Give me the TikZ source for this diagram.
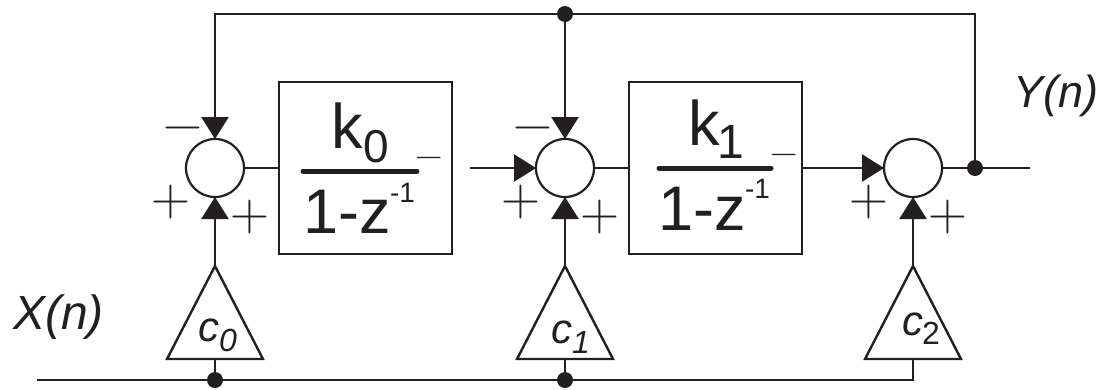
\documentclass[tikz,border=0pt]{standalone}
\usepackage{fontspec}
\usetikzlibrary{arrows.meta,shapes.geometric}
\newfontfamily\arialf{Liberation Sans}
\definecolor{ink}{HTML}{231F20}
\newcommand{\fs}[1]{\fontsize{#1}{#1}\selectfont}
\tikzset{
  x=1pt,y=-1pt,
  wire/.style={draw=ink,line width=2.6pt},
  inwire/.style={wire,-{Triangle[length=22pt,width=27pt]}},
  summer/.style={circle,draw=ink,line width=2.2pt,minimum size=58pt,inner sep=0pt,outer sep=0pt},
  tfbox/.style={rectangle,draw=ink,line width=2.2pt,minimum width=173pt,minimum height=172pt,inner sep=0pt,outer sep=0pt},
  gain/.style={isosceles triangle,isosceles triangle stretches,shape border rotate=90,draw=ink,line width=2.4pt,
     minimum width=96pt,minimum height=93pt,inner sep=0pt,outer sep=0pt,anchor=apex},
  dot/.style={circle,fill=ink,draw=none,minimum size=16pt,inner sep=0pt,outer sep=0pt},
  txt/.style={inner sep=0pt,outer sep=0pt,anchor=base west,text=ink,font=\arialf},
  sign/.style={inner sep=0pt,outer sep=0pt,anchor=center,text=ink,font=\fs{54}},
  smallsign/.style={inner sep=0pt,outer sep=0pt,anchor=center,text=ink,font=\fs{38}},
  fracbar/.style={draw=ink,line width=5pt,line cap=round},
}
\begin{document}
\begin{tikzpicture}
\useasboundingbox (0,0) rectangle (1097,389);
% summers
\node[summer] (s0) at (215,168) {};
\node[summer] (s1) at (565,168) {};
\node[summer] (s2) at (913,168) {};
% boxes
\node[tfbox] (b0) at (365.5,168) {};
\node[tfbox] (b1) at (715.5,168) {};
% gains
\node[gain] (g0) at (215,266) {};
\node[gain] (g1) at (565,266) {};
\node[gain] (g2) at (913,266) {};
% junctions
\node[dot] (jt) at (565,14) {};
\node[dot] (jo) at (975,168) {};
\node[dot] (j0) at (215,380) {};
\node[dot] (j1) at (565,380) {};
\coordinate (tl) at (215,14);
\coordinate (tr) at (975,14);
\coordinate (yout) at (1030,168);
\coordinate (xin) at (37,380);
\coordinate (br) at (913,380);
\coordinate (b0out) at (470,168);
% wires
\draw[inwire] (jt.center) -- (tl) -- (s0.north);
\draw[wire] (jt.center) -- (tr) -- (jo.center);
\draw[inwire] (jt.center) -- (s1.north);
\draw[wire] (s0.east) -- (b0.west);
\draw[wire] (s1.east) -- (b1.west);
\draw[inwire] (b0out) -- (s1.west);
\draw[inwire] (b1.east) -- (s2.west);
\draw[wire] (s2.east) -- (yout);
\draw[inwire] (g0.apex) -- (s0.south);
\draw[inwire] (g1.apex) -- (s1.south);
\draw[inwire] (g2.apex) -- (s2.south);
\draw[wire] (xin) -- (br) -- (g2.lower side);
\draw[wire] (j0.center) -- (g0.lower side);
\draw[wire] (j1.center) -- (g1.lower side);
% fractions
\draw[fracbar] (303,171) -- (417,171);
\draw[fracbar] (659,168) -- (771,168);
\node[txt,font=\arialf\fs{63}] (k0) at (331,148) {k};
\node[txt,font=\arialf\fs{46}] (k0s) at (363,162) {0};
\node[txt,font=\arialf\fs{63}] (d0) at (303,233) {1-z};
\node[txt,font=\arialf\fs{28}] (d0s) at (390,202) {-1};
\node[txt,font=\arialf\fs{63}] (k1) at (688,145) {k};
\node[txt,font=\arialf\fs{48}] (k1s) at (717,158) {1};
\node[txt,font=\arialf\fs{63}] (d1) at (658,230) {1-z};
\node[txt,font=\arialf\fs{28}] (d1s) at (745,198) {-1};
% signs
\node[smallsign] (m0b) at (429,162) {−};
\node[smallsign] (m1b) at (784,159) {−};
\node[sign] (m0) at (183,134) {−};
\node[sign] (m1) at (533,134) {−};
\node[sign] (p0a) at (171,202) {+};
\node[sign] (p0b) at (250,217) {+};
\node[sign] (p1a) at (521,202) {+};
\node[sign] (p1b) at (600,217) {+};
\node[sign] (p2a) at (869,202) {+};
\node[sign] (p2b) at (948,217) {+};
% labels
\node[txt,font=\arialf\itshape\fs{48}] (xl) at (13,329) {X(n)};
\node[txt,font=\arialf\itshape\fs{45}] (yl) at (1013,107) {Y(n)};
\node[txt,font=\arialf\itshape\fs{42}] (c0) at (198,341) {c};
\node[txt,font=\arialf\itshape\fs{32}] (c0s) at (219,351) {0};
\node[txt,font=\arialf\itshape\fs{42}] (c1) at (551,343) {c};
\node[txt,font=\arialf\itshape\fs{32}] (c1s) at (572,353) {1};
\node[txt,font=\arialf\itshape\fs{42}] (c2) at (902,335) {c};
\node[txt,font=\arialf\fs{32}] (c2s) at (922,344) {2};
\end{tikzpicture}
\end{document}
